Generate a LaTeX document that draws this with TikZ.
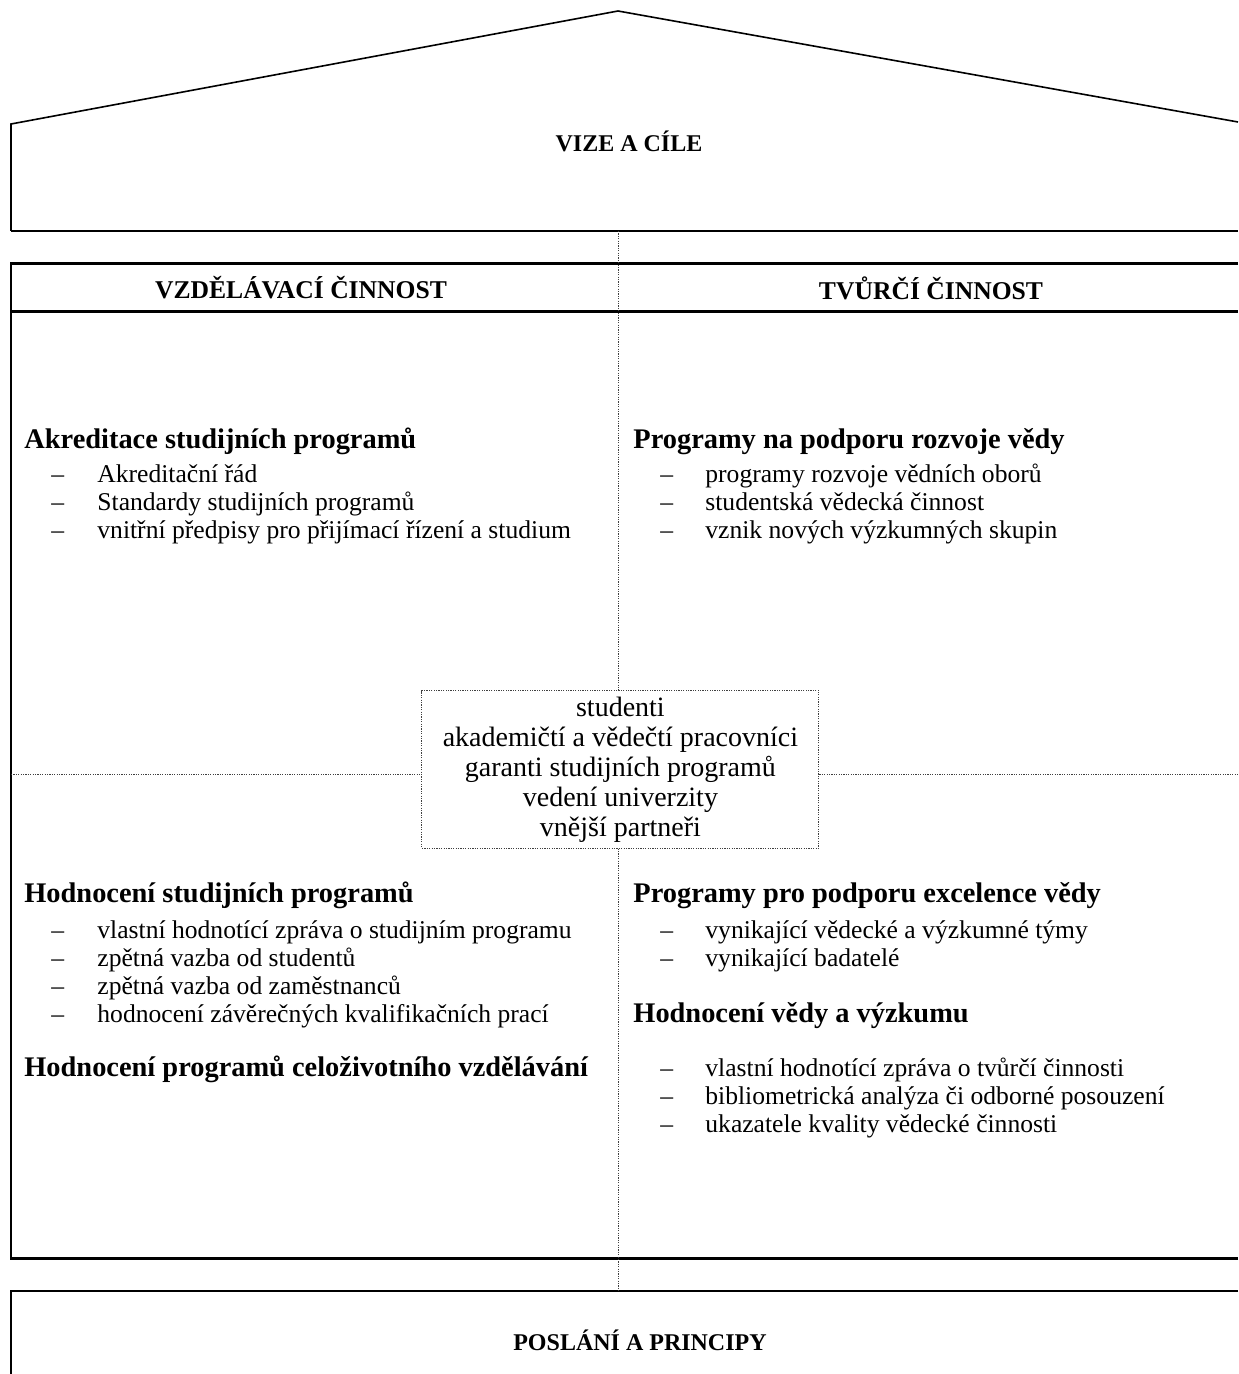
\documentclass[tikz,border=0pt]{standalone}
\usepackage{fontspec}
\setmainfont{Liberation Serif}
\begin{document}
\begin{tikzpicture}[x=0.5pt,y=-0.5pt,
  heavy/.style={line width=1.3pt},
  roofline/.style={line width=0.8pt},
  dotline/.style={line width=0.5pt, black!75, dash pattern=on 0.6pt off 0.6pt},
  capshead/.style={font=\bfseries\fontsize{12.8}{15}\selectfont, inner sep=0pt},
  bighead/.style={font=\bfseries\fontsize{12}{15}\selectfont, inner sep=0pt},
  subhead/.style={font=\bfseries\fontsize{14.2}{17}\selectfont, inner sep=0pt, anchor=mid west},
  body/.style={font=\fontsize{12.8}{15}\selectfont, inner sep=0pt, anchor=mid west},
  cbox/.style={draw, dotline, minimum width=198.5pt, minimum height=78.6pt, inner sep=0pt,
    align=center, font=\fontsize{14}{15}\selectfont, text=black}
]
\useasboundingbox (0,0) rectangle (1238,1374);

% roof
\coordinate (rl) at (11,124);
\coordinate (apex) at (618,11);
\coordinate (rr) at (1238,122);
\coordinate (rbl) at (11,231);
\coordinate (rbr) at (1238,231);
\draw[roofline] (rbl) -- (rl) -- (apex) -- (rr);
\draw[heavy] (rbl) -- (rbr);
\node[bighead] (vize) at (629,141) {VIZE A CÍLE};

% main box
\coordinate (mtl) at (11,263.5);
\coordinate (mtr) at (1238,263.5);
\coordinate (mhl) at (11,311.5);
\coordinate (mhr) at (1238,311.5);
\coordinate (mbl) at (11,1258.5);
\coordinate (mbr) at (1238,1258.5);
\draw[heavy] (mtr) -- (mtl) -- (mbl) -- (mbr);
\draw[heavy] (mhl) -- (mhr);
\node[capshead] (vzd) at (301,288) {VZDĚLÁVACÍ ČINNOST};
\node[capshead] (tvr) at (931,288) {TVŮRČÍ ČINNOST};

% bottom box
\coordinate (btl) at (11,1291);
\coordinate (btr) at (1238,1291);
\coordinate (bbl) at (11,1374);
\draw[heavy] (btr) -- (btl) -- (bbl);
\node[bighead] (posl) at (640,1340) {POSLÁNÍ A PRINCIPY};

% centre box and dotted axes
\node[cbox] (cb) at (620.4,769.4) {studenti\\akademičtí a vědečtí pracovníci\\garanti studijních programů\\vedení univerzity\\vnější partneři};
\coordinate (vtop) at (618,231);
\coordinate (vbot) at (618,1291);
\coordinate (hl) at (11,774);
\coordinate (hr) at (1238,774);
\draw[dotline] (vtop) -- (vtop |- cb.north);
\draw[dotline] (vbot |- cb.south) -- (vbot);
\draw[dotline] (hl) -- (hl -| cb.west);
\draw[dotline] (hr -| cb.east) -- (hr);

% top-left quadrant
\node[subhead] (h1) at (24,444) {Akreditace studijních programů};
\node[body] (d11) at (51,478) {–}; \node[body] (t11) at (97,478) {Akreditační řád};
\node[body] (d12) at (51,506) {–}; \node[body] (t12) at (97,506) {Standardy studijních programů};
\node[body] (d13) at (51,534) {–}; \node[body] (t13) at (97,534) {vnitřní předpisy pro přijímací řízení a studium};

% top-right quadrant
\node[subhead] (h2) at (633,444) {Programy na podporu rozvoje vědy};
\node[body] (d21) at (660,478) {–}; \node[body] (t21) at (705,478) {programy rozvoje vědních oborů};
\node[body] (d22) at (660,506) {–}; \node[body] (t22) at (705,506) {studentská vědecká činnost};
\node[body] (d23) at (660,534) {–}; \node[body] (t23) at (705,534) {vznik nových výzkumných skupin};

% bottom-left quadrant
\node[subhead] (h3) at (24,898) {Hodnocení studijních programů};
\node[body] (d31) at (51,934) {–}; \node[body] (t31) at (97,934) {vlastní hodnotící zpráva o studijním programu};
\node[body] (d32) at (51,962) {–}; \node[body] (t32) at (97,962) {zpětná vazba od studentů};
\node[body] (d33) at (51,990) {–}; \node[body] (t33) at (97,990) {zpětná vazba od zaměstnanců};
\node[body] (d34) at (51,1018) {–}; \node[body] (t34) at (97,1018) {hodnocení závěrečných kvalifikačních prací};
\node[subhead] (h4) at (24,1072) {Hodnocení programů celoživotního vzdělávání};

% bottom-right quadrant
\node[subhead] (h5) at (633,898) {Programy pro podporu excelence vědy};
\node[body] (d51) at (660,934) {–}; \node[body] (t51) at (705,934) {vynikající vědecké a výzkumné týmy};
\node[body] (d52) at (660,962) {–}; \node[body] (t52) at (705,962) {vynikající badatelé};
\node[subhead] (h6) at (633,1018) {Hodnocení vědy a výzkumu};
\node[body] (d61) at (660,1072) {–}; \node[body] (t61) at (705,1072) {vlastní hodnotící zpráva o tvůrčí činnosti};
\node[body] (d62) at (660,1100) {–}; \node[body] (t62) at (705,1100) {bibliometrická analýza či odborné posouzení};
\node[body] (d63) at (660,1128) {–}; \node[body] (t63) at (705,1128) {ukazatele kvality vědecké činnosti};
\end{tikzpicture}
\end{document}
